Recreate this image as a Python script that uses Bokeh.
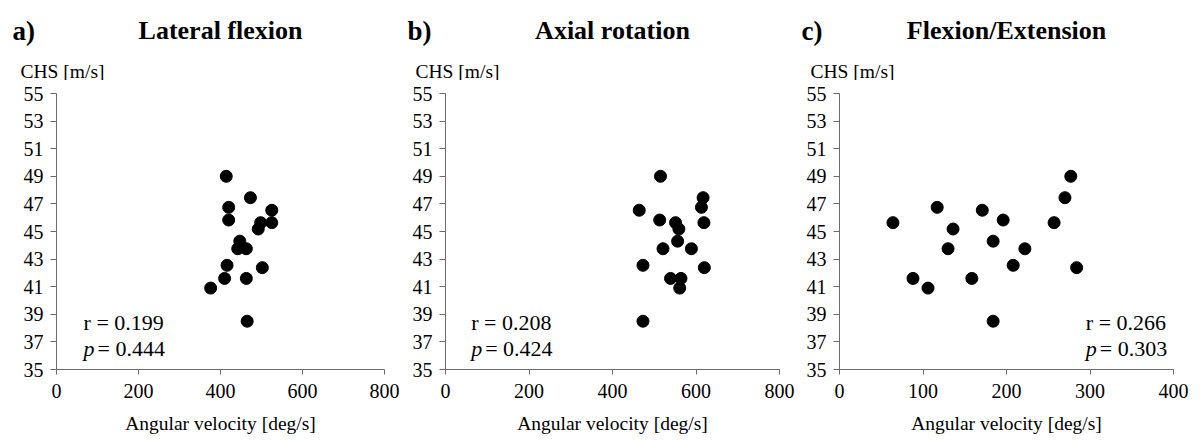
from bokeh.plotting import figure
from bokeh.layouts import row, column
from bokeh.models import Label, FixedTicker, Range1d
from bokeh.core.properties import value
from bokeh.embed import file_html
from bokeh.resources import INLINE

# Club head speed (CHS) of each player, shared by all three panels
chs = [49.0, 47.45, 46.75, 46.54, 45.83, 45.64, 45.64, 45.18, 44.3,
       43.75, 43.75, 42.55, 42.38, 41.6, 41.6, 40.9, 38.5]

# Peak angular velocity [deg/s] per player for each movement
lateral_velocity = [414, 473, 420, 525, 420, 498, 525, 492, 447,
                    442, 463, 416, 502, 410, 463, 376, 465]
axial_velocity = [515, 617, 613, 464, 513, 551, 619, 559, 556,
                  521, 589, 473, 620, 539, 564, 561, 473]
flexion_velocity = [277, 270, 117, 171, 196, 64, 257, 136, 184,
                    130, 222, 208, 284, 88, 158.5, 106, 184]

panel_letters = ["a)", "b)", "c)"]
panel_titles = ["Lateral flexion", "Axial rotation", "Flexion/Extension"]
r_values = ["0.199", "0.208", "0.266"]
p_values = ["0.444", "0.424", "0.303"]

y_ticks = [35, 37, 39, 41, 43, 45, 47, 49, 51, 53, 55]
x_ticks_wide = [0, 200, 400, 600, 800]
x_ticks_narrow = [0, 100, 200, 300, 400]

FONT = "Liberation Serif"
AXIS_COLOR = "#6b6b6b"
HEADER_H = 80
TOTAL_W = 1202


def make_panel(xs, r, pval, x_ticks, x_max, frame_w, left, right, stat_x):
    p = figure(frame_width=frame_w, frame_height=276,
               min_border_left=left, min_border_right=right,
               min_border_top=93 - HEADER_H, min_border_bottom=72,
               x_range=Range1d(0, x_max), y_range=Range1d(35, 55),
               output_backend="svg", toolbar_location=None)
    p.outline_line_color = None
    p.grid.visible = False
    p.background_fill_color = "white"
    p.border_fill_color = "white"

    p.scatter(xs, chs, size=12, color="black")

    p.xaxis.ticker = FixedTicker(ticks=x_ticks)
    p.yaxis.ticker = FixedTicker(ticks=y_ticks)
    for ax in (p.xaxis, p.yaxis):
        ax.axis_line_color = AXIS_COLOR
        ax.major_tick_line_color = AXIS_COLOR
        ax.minor_tick_line_color = None
        ax.major_tick_in = 0
        ax.major_label_text_font = FONT
        ax.major_label_text_font_size = "20px"
        ax.major_label_text_color = "black"
    p.yaxis.major_tick_out = 6
    p.yaxis.major_label_standoff = 7
    p.xaxis.major_tick_out = 5
    p.xaxis.major_label_standoff = 9
    p.xaxis.axis_label = "Angular velocity [deg/s]"
    p.xaxis.axis_label_text_font = FONT
    p.xaxis.axis_label_text_font_size = "19.5px"
    p.xaxis.axis_label_text_font_style = "normal"
    p.xaxis.axis_label_text_color = "black"
    p.xaxis.axis_label_standoff = 12

    # correlation statistics
    p.add_layout(Label(x=stat_x, y=38.4, text="r = " + r, text_font=FONT,
                       text_font_size="22px", text_color="black",
                       text_baseline="alphabetic"))
    p.add_layout(Label(x=stat_x, y=36.52, text="p", text_font=FONT,
                       text_font_size="22px", text_font_style="italic",
                       text_color="black", text_baseline="alphabetic"))
    p.add_layout(Label(x=stat_x, y=36.52, x_offset=14, text="= " + pval,
                       text_font=FONT, text_font_size="22px",
                       text_color="black", text_baseline="alphabetic"))
    return p


# Heading strip: panel letters, bold titles and the y-axis unit labels,
# laid out in pixel coordinates (y grows downward).
header = figure(width=TOTAL_W, height=HEADER_H,
                x_range=Range1d(0, TOTAL_W), y_range=Range1d(HEADER_H, 0),
                min_border=0, x_axis_location=None, y_axis_location=None,
                output_backend="svg", toolbar_location=None)
header.outline_line_color = None
header.grid.visible = False

letter_x = [12, 407, 801]
title_cx = [220, 612, 1006]
unit_x = [20, 415, 810]

header.text(x=letter_x, y=[30, 30, 30], text=panel_letters,
            text_font=value(FONT), text_font_size="27px",
            text_font_style="bold", text_color="black",
            text_baseline="alphabetic", text_align="left")
header.text(x=title_cx, y=[30, 30, 30], text=panel_titles,
            text_font=value(FONT), text_font_size="26px",
            text_font_style="bold", text_color="black",
            text_baseline="alphabetic", text_align="center")
header.text(x=unit_x, y=[70.5, 70.5, 70.5], text=["CHS [m/s]"] * 3,
            text_font=value(FONT), text_font_size="19.5px",
            text_color="black", text_baseline="alphabetic",
            text_align="left")

pa = make_panel(lateral_velocity, r_values[0], p_values[0],
                x_ticks_wide, 800, 328, 56, 16, 66)
pb = make_panel(axial_velocity, r_values[1], p_values[1],
                x_ticks_wide, 800, 334, 45, 21, 61.5)
pc = make_panel(flexion_velocity, r_values[2], p_values[2],
                x_ticks_narrow, 400, 334, 39, 29, 295)

layout = column(header, row(pa, pb, pc, spacing=0), spacing=0)
open("out.html", "w").write(file_html(layout, INLINE))
